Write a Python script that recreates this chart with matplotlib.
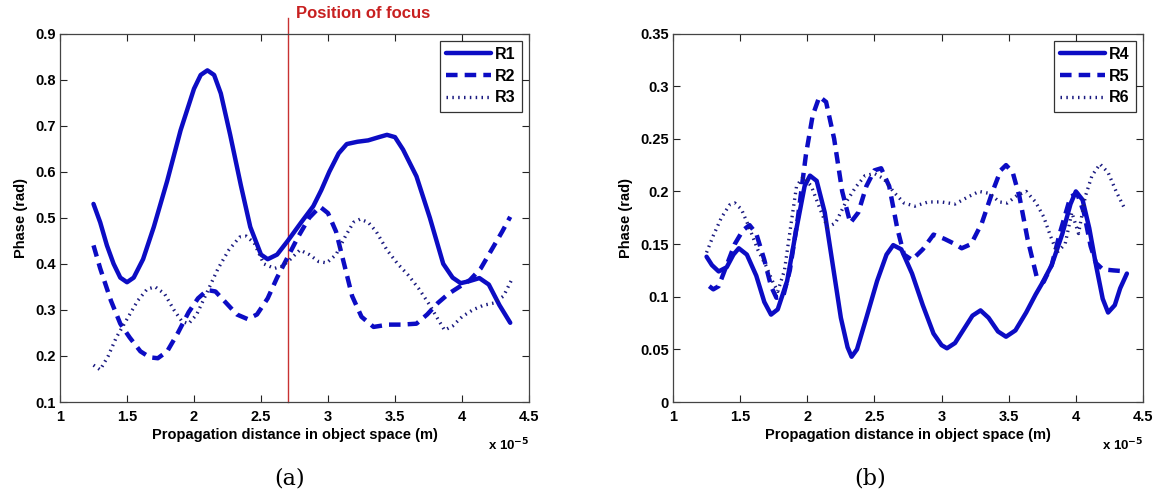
import matplotlib
matplotlib.use("Agg")
import matplotlib.pyplot as plt

# ---------------- data (x in units of 1e-5 m) ----------------
r1_x = [1.25, 1.30, 1.35, 1.40, 1.45, 1.50, 1.55, 1.62, 1.70, 1.80, 1.90, 2.00, 2.05, 2.10, 2.15, 2.20,
        2.27, 2.35, 2.42, 2.50, 2.55, 2.62, 2.70, 2.80, 2.89, 2.95, 3.01, 3.08, 3.14, 3.22, 3.30, 3.38,
        3.44, 3.50, 3.56, 3.66, 3.76, 3.86, 3.93, 3.99, 4.05, 4.13, 4.20, 4.28, 4.36]
r1_y = [0.53, 0.49, 0.44, 0.40, 0.37, 0.36, 0.37, 0.41, 0.48, 0.58, 0.69, 0.78, 0.81, 0.82, 0.81, 0.77,
        0.68, 0.57, 0.48, 0.42, 0.41, 0.42, 0.45, 0.49, 0.525, 0.56, 0.60, 0.64, 0.66, 0.665, 0.668, 0.675,
        0.68, 0.675, 0.648, 0.59, 0.50, 0.40, 0.37, 0.358, 0.362, 0.369, 0.355, 0.31, 0.272]

r2_x = [1.25, 1.30, 1.38, 1.45, 1.52, 1.60, 1.67, 1.73, 1.80, 1.88, 1.96, 2.03, 2.10, 2.16, 2.24, 2.32,
        2.40, 2.47, 2.55, 2.62, 2.70, 2.78, 2.86, 2.94, 3.00, 3.06, 3.12, 3.18, 3.25, 3.34, 3.45, 3.55,
        3.66, 3.74, 3.82, 3.90, 3.98, 4.06, 4.14, 4.22, 4.30, 4.36]
r2_y = [0.44, 0.39, 0.32, 0.27, 0.24, 0.21, 0.197, 0.195, 0.21, 0.25, 0.295, 0.325, 0.343, 0.34, 0.315, 0.29,
        0.28, 0.29, 0.325, 0.37, 0.415, 0.46, 0.50, 0.524, 0.51, 0.47, 0.40, 0.33, 0.285, 0.263, 0.268, 0.268,
        0.27, 0.29, 0.315, 0.335, 0.35, 0.365, 0.39, 0.43, 0.47, 0.502]

r3_x = [1.25, 1.30, 1.36, 1.42, 1.50, 1.58, 1.65, 1.71, 1.78, 1.85, 1.91, 1.96, 2.02, 2.10, 2.18, 2.26,
        2.34, 2.39, 2.45, 2.52, 2.60, 2.66, 2.72, 2.79, 2.86, 2.93, 2.99, 3.06, 3.13, 3.19, 3.24, 3.30,
        3.36, 3.44, 3.52, 3.60, 3.68, 3.76, 3.82, 3.87, 3.93, 4.00, 4.08, 4.16, 4.24, 4.31, 4.37]
r3_y = [0.18, 0.17, 0.20, 0.24, 0.28, 0.32, 0.345, 0.35, 0.335, 0.30, 0.275, 0.27, 0.29, 0.34, 0.39, 0.43,
        0.458, 0.46, 0.445, 0.40, 0.39, 0.395, 0.41, 0.43, 0.42, 0.405, 0.402, 0.42, 0.46, 0.49, 0.497, 0.49,
        0.47, 0.43, 0.40, 0.375, 0.345, 0.31, 0.28, 0.256, 0.265, 0.285, 0.30, 0.31, 0.315, 0.33, 0.365]

r4_x = [1.25, 1.29, 1.34, 1.40, 1.45, 1.49, 1.55, 1.62, 1.68, 1.73, 1.78, 1.85, 1.92, 1.98, 2.02, 2.07,
        2.13, 2.19, 2.25, 2.30, 2.33, 2.37, 2.44, 2.52, 2.59, 2.64, 2.70, 2.78, 2.86, 2.94, 3.00, 3.04,
        3.10, 3.17, 3.23, 3.29, 3.35, 3.42, 3.48, 3.55, 3.63, 3.70, 3.75, 3.82, 3.90, 3.96, 4.00, 4.05,
        4.10, 4.15, 4.20, 4.24, 4.29, 4.33, 4.38]
r4_y = [0.138, 0.130, 0.124, 0.128, 0.140, 0.146, 0.140, 0.120, 0.095, 0.083, 0.088, 0.115, 0.165, 0.205, 0.215, 0.210,
        0.180, 0.130, 0.080, 0.052, 0.043, 0.050, 0.080, 0.115, 0.140, 0.149, 0.145, 0.122, 0.092, 0.065, 0.054, 0.051,
        0.056, 0.070, 0.082, 0.087, 0.080, 0.067, 0.062, 0.068, 0.085, 0.102, 0.113, 0.130, 0.160, 0.188, 0.200, 0.192,
        0.165, 0.130, 0.098, 0.085, 0.092, 0.108, 0.122]

r5_x = [1.27, 1.30, 1.34, 1.40, 1.46, 1.52, 1.57, 1.62, 1.68, 1.73, 1.77, 1.82, 1.87, 1.93, 1.99, 2.04,
        2.09, 2.14, 2.20, 2.26, 2.32, 2.38, 2.44, 2.50, 2.55, 2.61, 2.67, 2.72, 2.78, 2.86, 2.94, 3.02,
        3.10, 3.15, 3.22, 3.30, 3.38, 3.44, 3.48, 3.53, 3.58, 3.64, 3.71, 3.76, 3.82, 3.88, 3.96, 4.01,
        4.06, 4.11, 4.15, 4.20, 4.28, 4.38]
r5_y = [0.110, 0.107, 0.110, 0.130, 0.150, 0.163, 0.168, 0.160, 0.135, 0.110, 0.099, 0.100, 0.125, 0.175, 0.235, 0.272,
        0.290, 0.285, 0.250, 0.200, 0.170, 0.180, 0.205, 0.220, 0.222, 0.205, 0.165, 0.140, 0.135, 0.145, 0.159, 0.155,
        0.150, 0.146, 0.150, 0.170, 0.200, 0.220, 0.225, 0.218, 0.195, 0.155, 0.118, 0.114, 0.130, 0.160, 0.195, 0.198,
        0.180, 0.148, 0.132, 0.126, 0.125, 0.124]

r6_x = [1.25, 1.30, 1.36, 1.42, 1.46, 1.51, 1.57, 1.63, 1.69, 1.74, 1.78, 1.83, 1.88, 1.92, 1.97, 2.03,
        2.09, 2.15, 2.21, 2.28, 2.36, 2.43, 2.50, 2.57, 2.64, 2.72, 2.80, 2.90, 3.00, 3.10, 3.20, 3.28,
        3.36, 3.43, 3.49, 3.56, 3.63, 3.70, 3.76, 3.81, 3.86, 3.92, 3.97, 4.02, 4.07, 4.12, 4.18, 4.24,
        4.30, 4.37]
r6_y = [0.142, 0.158, 0.175, 0.187, 0.189, 0.183, 0.165, 0.145, 0.130, 0.115, 0.105, 0.125, 0.170, 0.205, 0.214, 0.205,
        0.185, 0.166, 0.170, 0.188, 0.204, 0.215, 0.217, 0.212, 0.200, 0.189, 0.186, 0.190, 0.190, 0.188, 0.195, 0.200,
        0.198, 0.190, 0.189, 0.196, 0.200, 0.190, 0.176, 0.158, 0.142, 0.150, 0.180, 0.160, 0.195, 0.215, 0.226, 0.218,
        0.200, 0.182]

focus_x = 2.7

xticks = [1, 1.5, 2, 2.5, 3, 3.5, 4, 4.5]
xticklabels = ["1", "1.5", "2", "2.5", "3", "3.5", "4", "4.5"]
yticks_a = [0.1, 0.2, 0.3, 0.4, 0.5, 0.6, 0.7, 0.8, 0.9]
yticklabels_a = ["0.1", "0.2", "0.3", "0.4", "0.5", "0.6", "0.7", "0.8", "0.9"]
yticks_b = [0, 0.05, 0.1, 0.15, 0.2, 0.25, 0.3, 0.35]
yticklabels_b = ["0", "0.05", "0.1", "0.15", "0.2", "0.25", "0.3", "0.35"]

# ---------------- styling ----------------
plt.rcParams['font.family'] = ['Liberation Sans', 'DejaVu Sans']
BLUE = '#0c0cc4'
DOT = '#1a1a80'
FS = 10.5

fig = plt.figure(figsize=(11.6, 4.93), dpi=100)
ax_a = fig.add_axes([60/1160, 1-402/493, 469/1160, 368.5/493])
ax_b = fig.add_axes([673/1160, 1-402/493, 470/1160, 368.5/493])


def style(ax, yt, ytl, ylim):
    ax.set_xlim(1, 4.5)
    ax.set_ylim(*ylim)
    ax.set_xticks(xticks)
    ax.set_xticklabels(xticklabels, fontsize=FS, fontweight='bold')
    ax.set_yticks(yt)
    ax.set_yticklabels(ytl, fontsize=FS, fontweight='bold')
    ax.tick_params(axis='x', pad=6)
    ax.tick_params(direction='in', length=5, width=0.8, top=True, right=True, colors='#222222',
                   labelcolor='black')
    ax.tick_params(axis='y', pad=3)
    for s in ax.spines.values():
        s.set_color('#444444')
        s.set_linewidth(0.9)
    ax.set_xlabel('Propagation distance in object space (m)', fontsize=FS, fontweight='bold', labelpad=3)
    ax.set_ylabel('Phase (rad)', fontsize=FS, fontweight='bold', labelpad=5)


def draw(ax, xs, ys, labels):
    ax.plot(xs[0], ys[0], color=BLUE, lw=3.2, ls='-', label=labels[0], solid_capstyle='round')
    ax.plot(xs[1], ys[1], color=BLUE, lw=3.2, ls=(0, (2.6, 1.6)), label=labels[1])
    ax.plot(xs[2], ys[2], color=DOT, lw=2.4, ls=(0, (0.45, 1.3)), label=labels[2])
    leg = ax.legend(loc='upper right', frameon=True, fancybox=False, edgecolor='black',
                    handlelength=2.8, handletextpad=0.25, borderpad=0.4, labelspacing=0.42,
                    borderaxespad=0.45, prop={'weight': 'bold', 'size': 11.5})
    leg.get_frame().set_linewidth(0.9)


style(ax_a, yticks_a, yticklabels_a, (0.1, 0.9))
draw(ax_a, [r1_x, r2_x, r3_x], [r1_y, r2_y, r3_y], ['R1', 'R2', 'R3'])
ax_a.axvline(focus_x, ymin=0, ymax=1.042, color='#c83232', lw=1.0, clip_on=False, zorder=1)
ax_a.text(focus_x + 0.06, 0.9 + 20/460.6, 'Position of focus', color='#c82020',
          fontsize=12, fontweight='bold', ha='left', va='center', clip_on=False)

style(ax_b, yticks_b, yticklabels_b, (0, 0.35))
draw(ax_b, [r4_x, r5_x, r6_x], [r4_y, r5_y, r6_y], ['R4', 'R5', 'R6'])

for ax in (ax_a, ax_b):
    ax.text(1.0, -0.118, r'x 10$^{\mathbf{-5}}$', transform=ax.transAxes, ha='right', va='center',
            fontsize=9.5, fontweight='bold')

fig.text(290/1160, 1-478/493, '(a)', fontsize=16, family='DejaVu Serif', ha='center', va='center')
fig.text(870/1160, 1-478/493, '(b)', fontsize=16, family='DejaVu Serif', ha='center', va='center')

fig.savefig('out.png', dpi=100)
